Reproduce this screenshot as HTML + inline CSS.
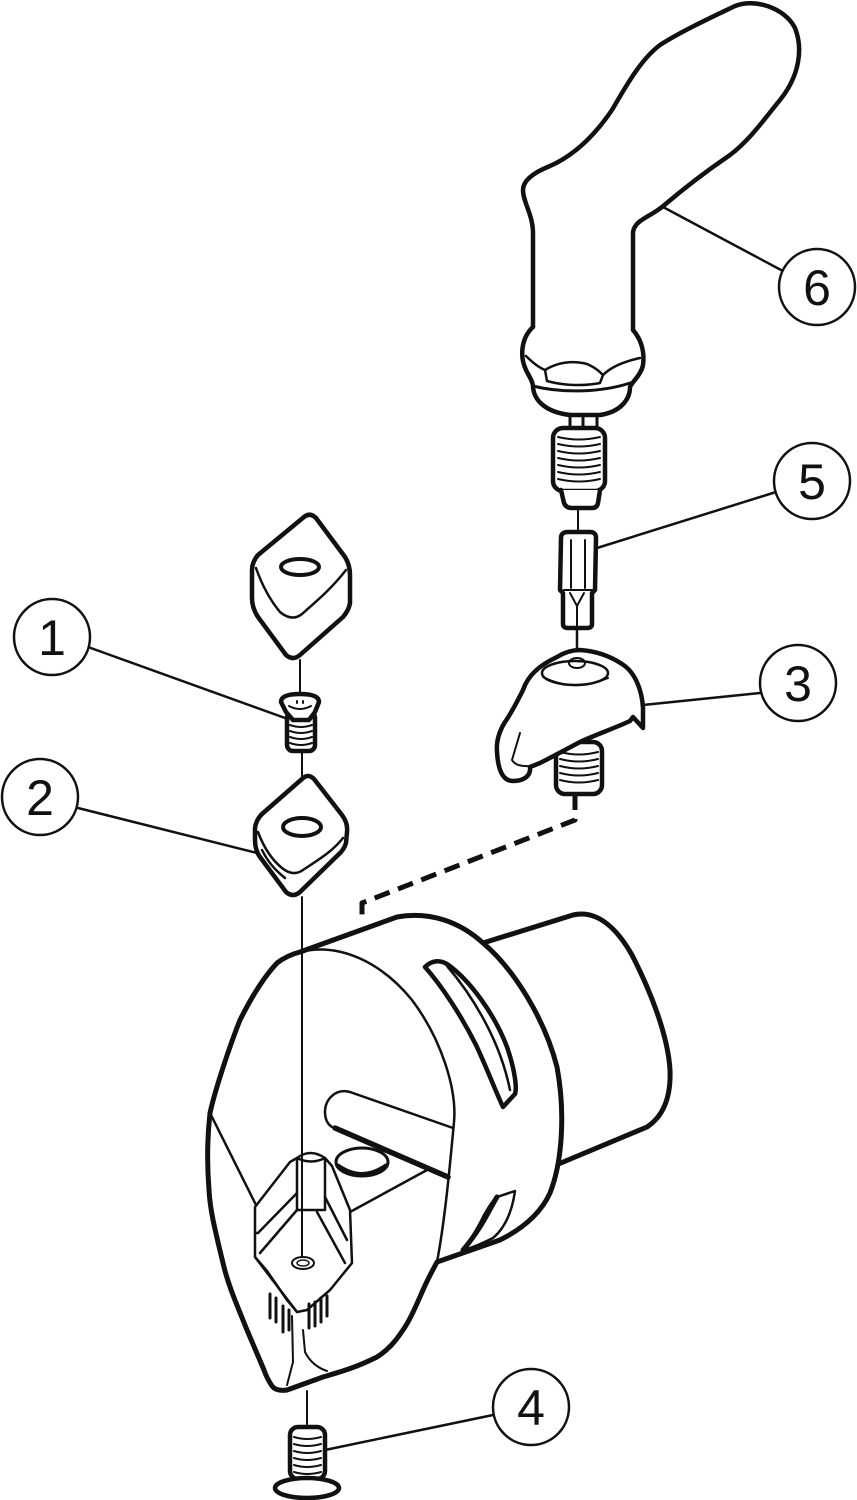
<!DOCTYPE html>
<html><head><meta charset="utf-8"><style>
html,body{margin:0;padding:0;background:#fff;}
svg{display:block;}
text{font-family:"Liberation Sans",sans-serif;font-size:50px;fill:#111;}
</style></head><body>
<svg width="857" height="1500" viewBox="0 0 857 1500" xmlns="http://www.w3.org/2000/svg">
<g fill="none" stroke="#111" stroke-linecap="round" stroke-linejoin="round">

<!-- ===== Handle (6) ===== -->
<path fill="#fff" stroke-width="4.5" d="M533,327 L533,233 C533,215 523,202 523,190 C523,180 535,172 550,166 C575,155 595,135 612,110 C625,88 640,60 660,45 C680,32 710,18 735,6 C755,-2 785,8 795,28 C803,48 800,75 780,100 C765,118 750,140 730,155 C705,172 682,190 662,207 C648,218 635,220 633,232 L633,330"/>
<path fill="#fff" stroke-width="4.5" d="M533,327 C522,337 519,355 526,370 C530,378 533,382 533,387 C534,400 545,412 570,415 L600,415 C620,412 630,400 630,387 C632,382 641,375 643,365 C645,350 640,338 633,330"/>
<path stroke-width="2.5" d="M526,356 C534,364 540,368 545,370 L547,381 C565,386 585,386 600,383 L603,375 C612,366 626,361 640,358"/>
<path stroke-width="2.5" d="M545,370 C560,361 575,361 587,364 C596,368 600,372 603,375"/>
<path stroke-width="3" d="M533,386 C560,393 600,393 630,383"/>
<!-- shaft + thread -->
<path fill="#fff" stroke-width="3" d="M570,415 L570,430 M597,415 L597,430 M583,415 L583,430"/>
<rect x="553" y="428" width="52" height="63" rx="10" fill="#fff" stroke-width="4.5"/>
<path stroke-width="2" d="M558,437 Q579,442 600,437 M558,444 Q579,449 600,444 M558,451 Q579,456 600,451 M558,458 Q579,463 600,458 M558,465 Q579,470 600,465 M558,472 Q579,477 600,472 M558,479 Q579,484 600,479"/>
<path fill="#fff" stroke-width="4.5" d="M561,490 L564,503 Q566,508 572,508 L592,508 Q597,508 598,503 L600,490"/>
<path stroke-width="2" d="M578,508 L578,532"/>

<!-- ===== Bit (5) ===== -->
<path fill="#fff" stroke-width="4.5" d="M561,538 Q561,532 568,532 L590,532 Q596,532 596,538 L595,590 L592,593 L592,624 Q592,628 587,628 L568,628 Q563,628 563,624 L563,593 L560,590 Z"/>
<path stroke-width="2" d="M571,540 L571,588 M585,540 L585,588 M564,590 L592,590 M570,593 L577,606 L584,593 M577,606 L577,626"/>
<path stroke-width="2.5" d="M577,628 L577,652"/>
<!-- leaders 5 and 6 -->
<path stroke-width="2.5" d="M597,548 L776,492"/>
<path stroke-width="2.5" d="M663,207 L781,270"/>

<!-- ===== Clamp screw + clamp (3) ===== -->
<rect x="556" y="742" width="46" height="52" rx="9" fill="#fff" stroke-width="4.5"/>
<path stroke-width="2" d="M560,752 Q579,757 598,752 M560,759 Q579,764 598,759 M560,766 Q579,771 598,766 M560,773 Q579,778 598,773 M560,780 Q579,785 598,780"/>
<path fill="#fff" stroke-width="4.5" d="M523,690 C528,675 540,665 557,657 C565,652 572,650 580,650 C595,651 610,656 622,664 C635,672 642,690 643,708 L643,728 L633,717 L630,721 C615,728 595,735 580,742 C565,750 550,758 540,763 L530,767 C531,775 525,781 513,781 C503,781 498,770 497,752 C496,740 500,730 505,722 C512,712 518,700 523,690 Z"/>
<ellipse cx="575" cy="673" rx="33" ry="12" fill="#fff" stroke-width="2.5"/>
<path stroke-width="2" d="M543,677 Q575,693 608,678"/>
<ellipse cx="577" cy="663" rx="8" ry="5" stroke-width="2"/>
<path stroke-width="2" d="M520,733 L512,760 M512,760 Q516,767 530,766"/>
<path stroke-width="2.5" d="M643,705 L760,693"/>

<!-- dashed connector -->
<path stroke-width="5" stroke-linecap="butt" stroke-dasharray="16 9" d="M575,794 L575,820 L362,903 L362,916"/>

<!-- ===== Body ===== -->
<!-- shank -->
<path fill="#fff" stroke-width="5" d="M483,943 L573,915 C595,910 615,925 632,955 C650,990 668,1035 670,1070 C671,1095 665,1115 647,1127 L556,1165"/>
<!-- main body outline -->
<path fill="#fff" stroke-width="5" d="M300,952 L397,917 C430,911 460,922 483,943 C515,970 545,1020 557,1067 C565,1110 563,1160 550,1193 C540,1215 520,1230 500,1240 L437,1262 C430,1275 426,1283 423,1290 C415,1308 410,1320 403,1330 C395,1342 388,1350 377,1357 C355,1368 340,1372 323,1377 L287,1390 C280,1391 275,1390 272,1386 C268,1380 266,1376 264,1370 L247,1330 C237,1305 228,1285 223,1263 C215,1230 210,1210 209,1190 C207,1165 207,1140 210,1113 C215,1090 230,1045 240,1020 C250,1000 263,978 277,963 C285,957 292,954 300,952 Z"/>
<!-- front disk edge -->
<path stroke-width="2.5" d="M300,952 C340,942 382,963 412,1000 C442,1040 457,1090 454,1122 C450,1165 445,1220 437,1262"/>
<!-- slot 1 -->
<path fill="#fff" stroke-width="4.5" d="M425,967 C432,960 440,960 447,964 C470,980 495,1015 507,1047 C515,1070 517,1088 515,1094 L503,1107 C495,1090 486,1066 476,1045 C461,1015 441,985 425,967 Z"/>
<path stroke-width="2.5" d="M447,966 C472,995 500,1040 510,1090"/>
<!-- slot 2 -->
<path fill="#fff" stroke-width="2.5" d="M515,1191 C512,1212 505,1228 493,1238 C483,1243 472,1248 463,1250 C470,1240 478,1228 484,1215 C490,1205 493,1200 497,1197 Z"/>
<path stroke-width="5" d="M497,1197 C490,1208 482,1228 463,1250"/>
<!-- groove -->
<path fill="#fff" stroke-width="2.5" d="M453,1128 L350,1092 C335,1088 325,1100 325,1112 C325,1122 330,1127 335,1128"/>
<path stroke-width="5.5" d="M335,1128 L448,1177"/>
<!-- hole -->
<ellipse cx="362" cy="1162" rx="26" ry="14" fill="#fff" stroke-width="3"/>
<path stroke-width="5" d="M338,1166 Q362,1183 386,1166"/>
<!-- seat lines -->
<path stroke-width="2.5" d="M350,1212 L427,1170"/>
<path stroke-width="2.5" d="M210,1113 L257,1207"/>

<!-- insert seat -->
<path fill="#fff" stroke-width="2.5" d="M255,1207 L290,1162 L297,1158 Q310,1148 325,1158 L332,1166 L350,1210 L352,1263 L330,1290 L307,1310 L297,1312 L287,1300 L267,1271 L255,1257 Z"/>
<path stroke-width="2.5" d="M297,1158 L297,1210 M325,1158 L325,1210 M297,1158 Q311,1165 325,1158 M297,1210 L325,1210"/>
<path stroke-width="2.5" d="M297,1193 L258,1233 M297,1210 L260,1253 M258,1233 L255,1233 M325,1197 L347,1240 M317,1212 L345,1263 M255,1257 L297,1312"/>
<ellipse cx="303" cy="1263" rx="11" ry="6" stroke-width="2"/>
<ellipse cx="303" cy="1263" rx="6" ry="3" stroke-width="1.5"/>
<!-- marks -->
<path stroke-width="3" d="M270,1294 L270,1318 M276,1298 L276,1322 M283,1306 L283,1332 M289,1310 L289,1330"/>
<path stroke-width="3" d="M309,1304 L309,1328 M315,1302 L315,1326 M321,1298 L321,1322 M327,1296 L327,1316"/>
<path stroke-width="2" d="M292,1316 L293,1362 L287,1385 M303,1330 L305,1352 Q312,1366 327,1371"/>

<!-- axis lines -->
<path stroke-width="2" d="M300,660 L300,694 M302,751 L302,776 M302,897 L302,1257 M307,1391 L307,1427"/>

<!-- ===== top insert ===== -->
<path fill="#fff" stroke-width="4.5" d="M304,517 Q310,512 316,518 L345,557 Q350,565 350,575 L350,603 Q349,610 343,617 L300,655 Q293,661 286,655 L258,617 Q252,608 252,598 L252,570 Q252,562 258,555 Z"/>
<path stroke-width="2.5" d="M256,568 C262,585 270,600 280,612 Q292,622 302,614 C318,600 332,588 346,570"/>
<ellipse cx="300" cy="567" rx="19" ry="8" stroke-width="4"/>

<!-- ===== screw (1) ===== -->
<rect x="287" y="712" width="28" height="39" rx="6" fill="#fff" stroke-width="4.5"/>
<path stroke-width="2" d="M290,725 Q301,729 312,725 M290,731 Q301,735 312,731 M290,737 Q301,741 312,737 M290,743 Q301,747 312,743"/>
<path fill="#fff" stroke-width="4.5" d="M281,702 Q281,694 300,694 Q319,694 319,702 L315,712 L309,720 L293,720 L286,712 Z"/>
<path stroke-width="2" d="M289,706 Q300,712 311,706 M297,701 L297,703 M303,701 L303,703"/>

<!-- ===== insert (2) ===== -->
<path fill="#fff" stroke-width="4.5" d="M302,779 Q308,773 314,779 L342,815 Q348,823 347,832 L346,843 Q344,850 338,855 L300,892 Q293,898 286,892 L260,857 Q255,850 255,840 L255,828 Q256,820 262,814 Z"/>
<path stroke-width="2.5" d="M258,832 C264,848 272,860 282,868 Q293,877 303,870 C318,860 332,852 343,838"/>
<path stroke-width="2.5" d="M262,850 C268,862 275,870 285,878"/>
<ellipse cx="302" cy="827" rx="19" ry="9" stroke-width="4"/>

<!-- ===== screw (4) ===== -->
<rect x="290" y="1427" width="35" height="52" rx="8" fill="#fff" stroke-width="4.5"/>
<path stroke-width="2" d="M294,1437 Q307,1441 321,1437 M294,1444 Q307,1448 321,1444 M294,1451 Q307,1455 321,1451 M294,1458 Q307,1462 321,1458 M294,1465 Q307,1469 321,1465 M294,1472 Q307,1476 321,1472"/>
<ellipse cx="307" cy="1488" rx="32" ry="10" fill="#fff" stroke-width="4.5"/>

<!-- leaders 1,2,4 -->
<path stroke-width="2.5" d="M88,647 L285,718"/>
<path stroke-width="2.5" d="M78,808 L257,853"/>
<path stroke-width="2.5" d="M325,1450 L493,1415"/>

<!-- ===== label circles ===== -->
<circle cx="52" cy="637" r="38" fill="#fff" stroke-width="2.5"/>
<circle cx="40" cy="797" r="38" fill="#fff" stroke-width="2.5"/>
<circle cx="798" cy="683" r="38" fill="#fff" stroke-width="2.5"/>
<circle cx="531" cy="1407" r="38" fill="#fff" stroke-width="2.5"/>
<circle cx="812" cy="481" r="38" fill="#fff" stroke-width="2.5"/>
<circle cx="817" cy="287" r="38" fill="#fff" stroke-width="2.5"/>
</g>
<g text-anchor="middle">
<text x="52" y="655">1</text>
<text x="40" y="815">2</text>
<text x="798" y="701">3</text>
<text x="531" y="1425">4</text>
<text x="812" y="499">5</text>
<text x="817" y="305">6</text>
</g>
</svg>
</body></html>
